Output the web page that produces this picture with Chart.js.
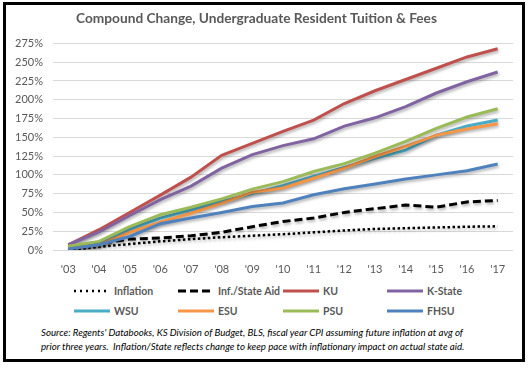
<!DOCTYPE html>
<html>
<head>
<meta charset="utf-8">
<script src="https://cdn.jsdelivr.net/npm/chart.js@4.4.1/dist/chart.umd.min.js"></script>
<style>
  body { margin: 0; width: 530px; height: 369px; background: #fff; position: relative; overflow: hidden; font-family: Lato, sans-serif; }
  #frame { position: absolute; left: 3px; top: 2px; width: 516px; height: 354px; border: 3px solid #000; }
  #chart { position: absolute; left: 0; top: 0; }
  .item { position: absolute; height: 14px; display: flex; align-items: center; font-size: 10.5px; font-weight: bold; color: #595959; white-space: nowrap; }
  .item svg { margin-right: 4px; }
  #source { position: absolute; left: 41px; top: 326px; font-size: 9.7px; font-style: italic; line-height: 13.5px; color: #000; white-space: nowrap; }
</style>
</head>
<body>
<div id="frame"></div>
<canvas id="chart" width="530" height="275"></canvas>
<div id="legend"></div>
<div id="source">Source: Regents' Databooks, KS Division of Budget, BLS, fiscal year CPI assuming future inflation at avg of<br>prior three years.&nbsp; Inflation/State reflects change to keep pace with inflationary impact on actual state aid.</div>
<script>
// fiscal years and compound % change
const years = ["'03", "'04", "'05", "'06", "'07", "'08", "'09", "'10", "'11", "'12", "'13", "'14", "'15", "'16", "'17"];
const inflation = [0, 4, 8, 11.5, 14.5, 17, 19, 21, 23.5, 26, 28, 29, 30, 31, 31.5];
const infStateAid = [4, 8.5, 14.5, 16, 19, 23.5, 31, 38, 42.5, 50, 55, 60, 57, 64, 66];
const ku = [7, 27, 50, 73, 97, 126, 142, 158, 173, 195, 212, 227, 242, 257, 268];
const kState = [7, 24, 46, 67, 85, 109, 127, 139, 148, 165, 176, 191, 209, 224, 237];
const wsu = [3, 9, 28, 42.5, 53.5, 64.5, 75, 85.5, 98, 110, 122, 133, 153, 165, 173];
const esu = [3, 7, 23.5, 37, 49, 62.5, 77, 82.5, 95.5, 109, 124.5, 138, 153, 161, 168];
const psu = [5, 11.5, 31, 47, 57, 68, 81, 91, 104.5, 115, 129, 144.5, 162, 177, 188];
const fhsu = [1.5, 7, 18, 35, 42.5, 50, 58, 62.5, 73.5, 81.5, 88, 94.5, 100, 105.5, 114.5];
const yTicks = [0, 25, 50, 75, 100, 125, 150, 175, 200, 225, 250, 275];

const titleText = 'Compound Change, Undergraduate Resident Tuition & Fees';

const series = [
  { label: 'Inflation', data: inflation, color: '#000000', width: 2.5, dash: [2.5, 2.5] },
  { label: 'Inf./State Aid', data: infStateAid, color: '#000000', width: 3, dash: [8, 4] },
  { label: 'KU', data: ku, color: '#C0504D', width: 3, dash: [] },
  { label: 'K-State', data: kState, color: '#8064A2', width: 3, dash: [] },
  { label: 'WSU', data: wsu, color: '#4BACC6', width: 3, dash: [] },
  { label: 'ESU', data: esu, color: '#F79646', width: 3, dash: [] },
  { label: 'PSU', data: psu, color: '#9BBB59', width: 3, dash: [] },
  { label: 'FHSU', data: fhsu, color: '#4F81BD', width: 3, dash: [] },
];

Chart.defaults.font.family = 'Lato';

// soft drop shadow like the office chart
const shadowPlugin = {
  id: 'lineShadow',
  beforeDatasetDraw(chart) {
    const c = chart.ctx;
    c.save();
    c.shadowColor = 'rgba(0,0,0,0.3)';
    c.shadowBlur = 3;
    c.shadowOffsetX = 1;
    c.shadowOffsetY = 2;
  },
  afterDatasetDraw(chart) {
    chart.ctx.restore();
  },
};

new Chart(document.getElementById('chart'), {
  type: 'line',
  data: {
    labels: years,
    datasets: series.map((s, i) => ({
      label: s.label,
      data: s.data,
      borderColor: s.color,
      backgroundColor: s.color,
      borderWidth: s.width,
      borderDash: s.dash,
      pointRadius: 0,
      tension: 0,
      fill: false,
      order: series.length - i,
    })),
  },
  options: {
    responsive: false,
    animation: false,
    layout: { padding: { left: 0, right: 17, top: 0, bottom: 0 } },
    plugins: {
      legend: { display: false },
      tooltip: { enabled: false },
      title: {
        display: true,
        text: titleText,
        color: '#595959',
        font: { size: 13.7, weight: 'bold' },
        padding: { top: 10, bottom: 17 },
      },
    },
    scales: {
      x: {
        offset: true,
        grid: { display: false },
        border: { display: false },
        ticks: { color: '#595959', font: { size: 11 }, padding: 5, maxRotation: 0 },
        afterFit: (s) => { s.height = 25; },
      },
      y: {
        min: 0,
        max: 275,
        afterBuildTicks: (s) => { s.ticks = yTicks.map((v) => ({ value: v })); },
        grid: { color: '#D9D9D9', drawTicks: false },
        border: { display: false },
        ticks: { color: '#595959', font: { size: 11 }, padding: 10, callback: (v) => v + '%' },
        afterFit: (s) => { s.width = 53; },
      },
    },
  },
  plugins: [shadowPlugin],
});

// legend laid out as a 4 x 2 grid
const colX = [74, 178, 283, 387];
const rowY = [284, 304];
const legend = document.getElementById('legend');
series.forEach((s, i) => {
  const el = document.createElement('div');
  el.className = 'item';
  el.style.left = colX[i % 4] + 'px';
  el.style.top = rowY[Math.floor(i / 4)] + 'px';
  const dash = s.dash.length ? s.dash.join(' ') : 'none';
  el.innerHTML = '<svg width="36" height="6"><line x1="0" y1="3" x2="36" y2="3" stroke="' + s.color +
    '" stroke-width="' + s.width + '" stroke-dasharray="' + (s.dash.length === 2 && s.dash[0] < 3 ? '2 4' : dash) + '"/></svg>';
  const t = document.createElement('span');
  t.textContent = s.label;
  el.appendChild(t);
  legend.appendChild(el);
});
</script>
</body>
</html>
